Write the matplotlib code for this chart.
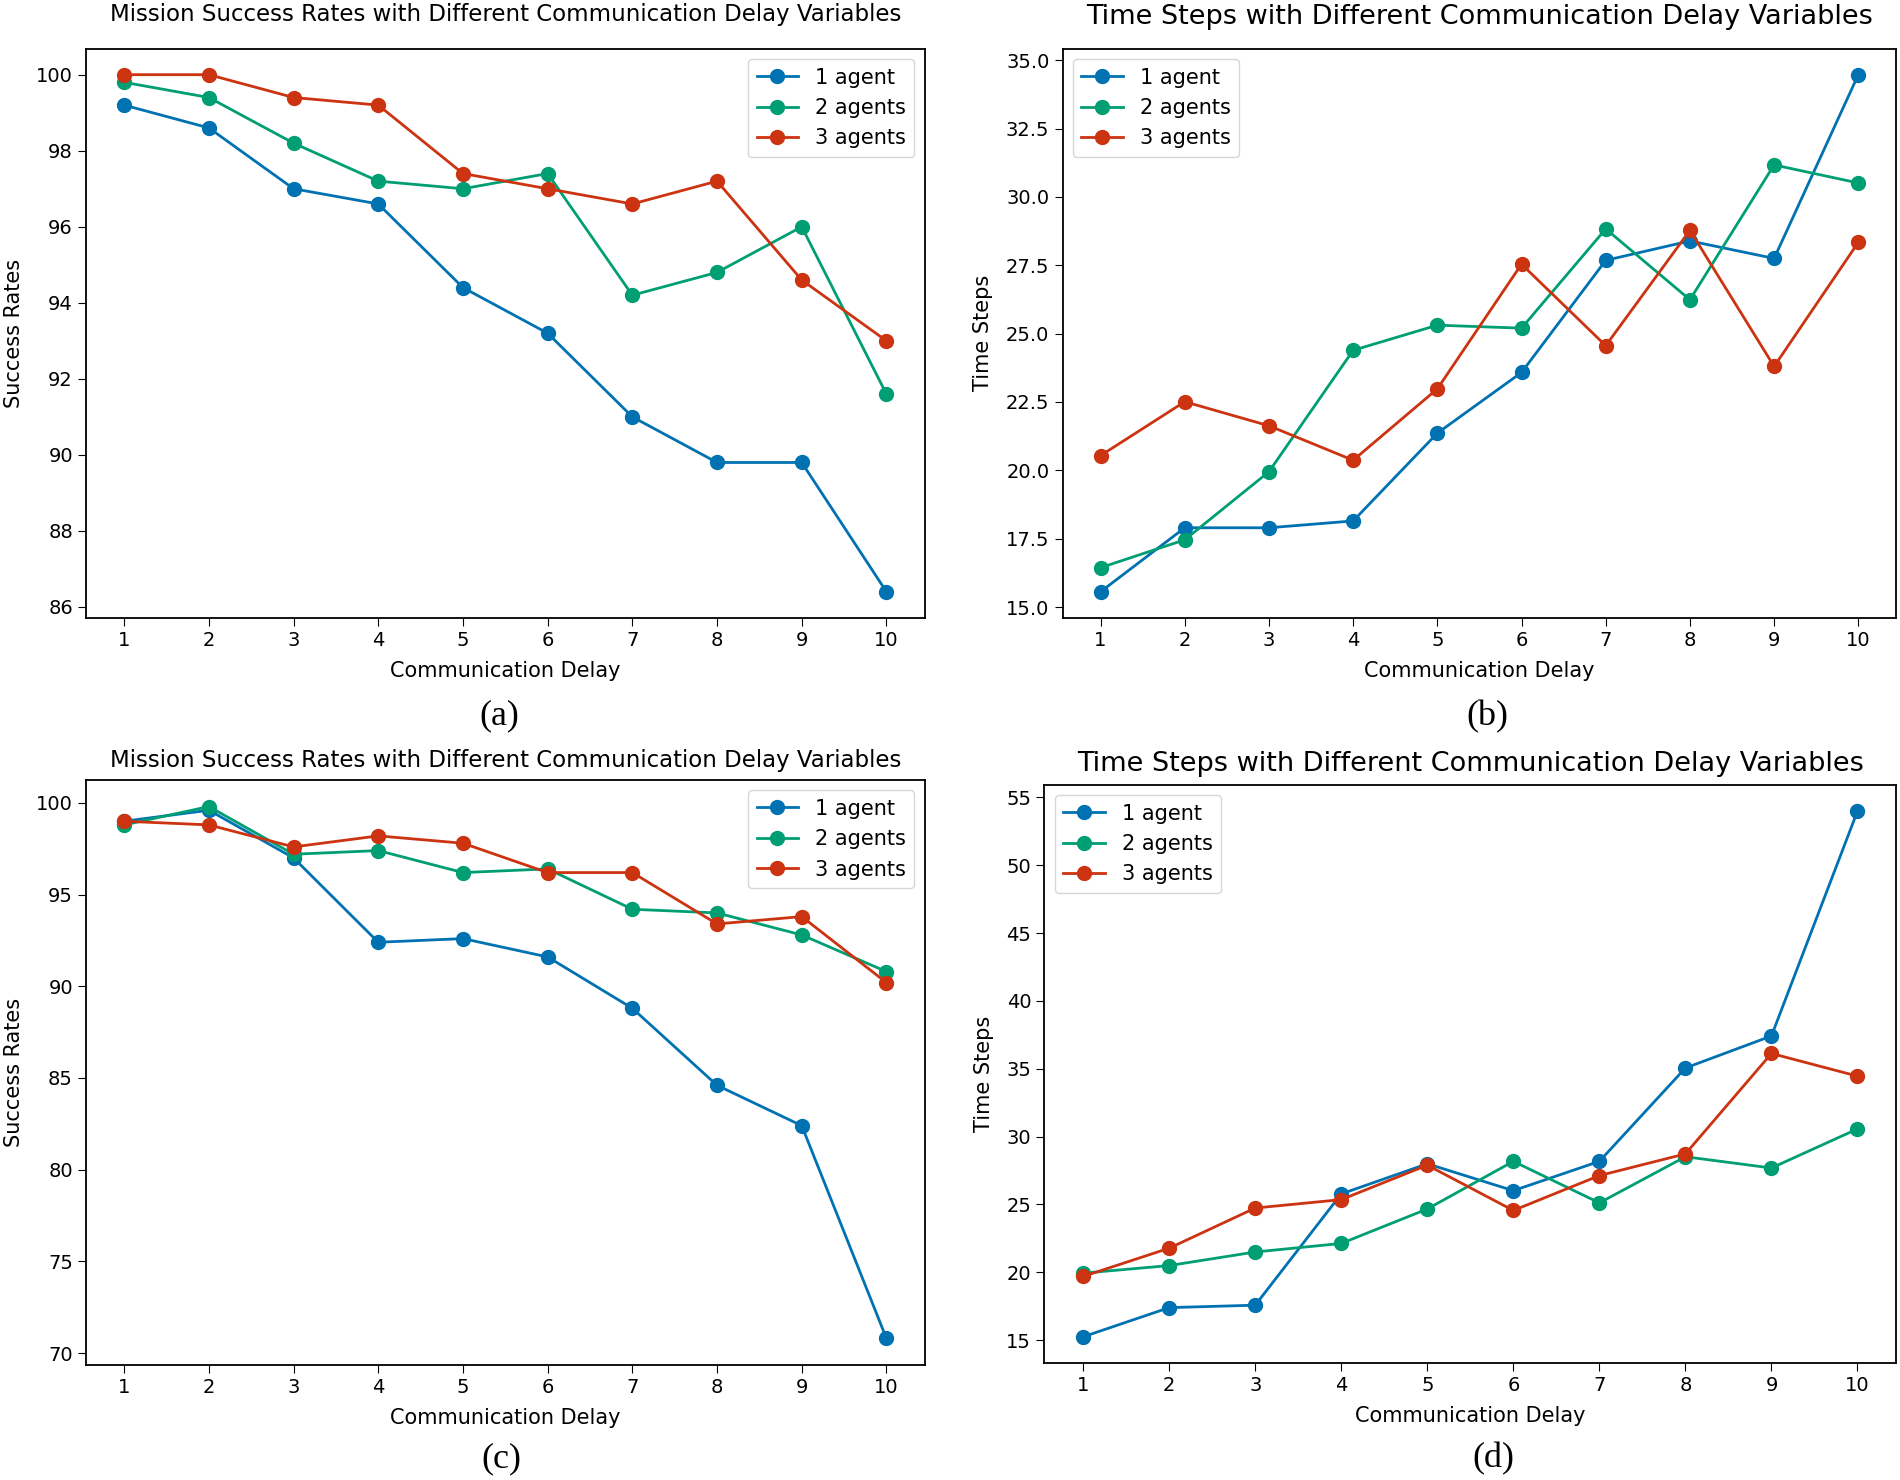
import matplotlib
matplotlib.use("Agg")
import matplotlib.pyplot as plt

delays = [1, 2, 3, 4, 5, 6, 7, 8, 9, 10]
series_labels = ["1 agent", "2 agents", "3 agents"]
colors = ["#0072B2", "#009E73", "#CC3311"]

# (a) success rates
a_1 = [99.2, 98.6, 97.0, 96.6, 94.4, 93.2, 91.0, 89.8, 89.8, 86.4]
a_2 = [99.8, 99.4, 98.2, 97.2, 97.0, 97.4, 94.2, 94.8, 96.0, 91.6]
a_3 = [100.0, 100.0, 99.4, 99.2, 97.4, 97.0, 96.6, 97.2, 94.6, 93.0]

# (b) time steps
b_1 = [15.56, 17.9, 17.9, 18.15, 21.36, 23.58, 27.68, 28.39, 27.75, 34.47]
b_2 = [16.44, 17.46, 19.95, 24.39, 25.31, 25.2, 28.83, 26.24, 31.17, 30.51]
b_3 = [20.54, 22.51, 21.63, 20.37, 22.98, 27.54, 24.56, 28.78, 23.8, 28.34]

# (c) success rates
c_1 = [99.0, 99.6, 97.0, 92.4, 92.6, 91.6, 88.8, 84.6, 82.4, 70.8]
c_2 = [98.8, 99.8, 97.2, 97.4, 96.2, 96.4, 94.2, 94.0, 92.8, 90.8]
c_3 = [99.0, 98.8, 97.6, 98.2, 97.8, 96.2, 96.2, 93.4, 93.8, 90.2]

# (d) time steps
d_1 = [15.25, 17.4, 17.58, 25.78, 28.0, 26.02, 28.18, 35.06, 37.42, 53.99]
d_2 = [19.94, 20.5, 21.5, 22.13, 24.67, 28.18, 25.12, 28.52, 27.69, 30.57]
d_3 = [19.7, 21.78, 24.74, 25.36, 27.9, 24.56, 27.13, 28.73, 36.13, 34.46]

title_sr = "Mission Success Rates with Different Communication Delay Variables"
title_ts = "Time Steps with Different Communication Delay Variables"

fig = plt.figure(figsize=(19, 14.8), dpi=100)

panels = [
    ([0.0453, 0.5827, 0.4413, 0.3843], [a_1, a_2, a_3], title_sr, "Success Rates", "upper right", 16.5, 20, "(a)", (0.263, 0.516)),
    ([0.5593, 0.5827, 0.4387, 0.3843], [b_1, b_2, b_3], title_ts, "Time Steps", "upper left", 19.5, 18, "(b)", (0.783, 0.516)),
    ([0.0453, 0.0777, 0.4413, 0.3953], [c_1, c_2, c_3], title_sr, "Success Rates", "upper right", 16.5, 9, "(c)", (0.264, 0.0145)),
    ([0.5497, 0.0790, 0.4483, 0.3907], [d_1, d_2, d_3], title_ts, "Time Steps", "upper left", 19.5, 10, "(d)", (0.786, 0.0145)),
]

for rect, data, title, ylabel, loc, tsize, tpad, cap, cpos in panels:
    ax = fig.add_axes(rect)
    for vals, lab, col in zip(data, series_labels, colors):
        ax.plot(delays, vals, marker="o", color=col, label=lab, linewidth=2.0, markersize=10)
    ax.set_xticks(delays)
    ax.set_title(title, fontsize=tsize, pad=tpad)
    ax.set_xlabel("Communication Delay", fontsize=15, labelpad=8)
    ax.set_ylabel(ylabel, fontsize=15, labelpad=9)
    ax.tick_params(labelsize=14, length=6)
    ax.legend(loc=loc, fontsize=15)
    for s in ax.spines.values():
        s.set_linewidth(1.3)
    fig.text(cpos[0], cpos[1], cap, ha="center", va="center", fontsize=26,
             family=["Liberation Serif", "DejaVu Serif"])

fig.savefig("out.png", dpi=100)
